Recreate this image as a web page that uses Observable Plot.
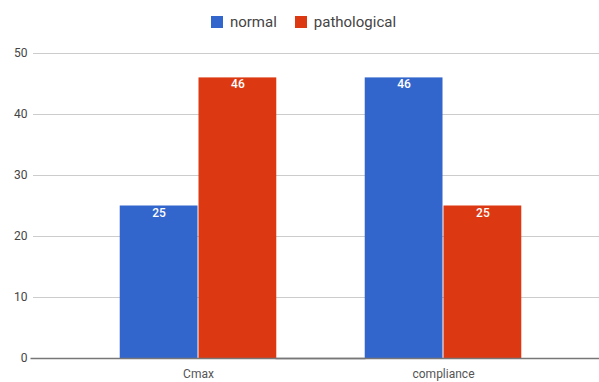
<!DOCTYPE html>
<html>
<head>
<meta charset="utf-8">
<script src="https://cdn.jsdelivr.net/npm/d3@7"></script>
<script src="https://cdn.jsdelivr.net/npm/@observablehq/plot@0.6"></script>
<style>
  body { margin: 0; background: #fff; font-family: Roboto, sans-serif; }
  #wrap { width: 599px; height: 382px; position: relative; }
  #legend { height: 40px; display: flex; justify-content: center; align-items: center; font-size: 15px; color: #444; padding-left: 8px; padding-top: 3px; box-sizing: border-box; }
  .item { display: flex; align-items: center; margin: 0 9px; }
  .sw { width: 12px; height: 12px; margin-right: 7px; }
  #plots { position: relative; width: 599px; height: 342px; }
  #plots svg { position: absolute; left: 0; top: 0; background: transparent; }
</style>
</head>
<body>
<div id="wrap">
  <div id="legend"></div>
  <div id="plots"></div>
</div>
<script>
const categories = ["Cmax", "compliance"];
const series = ["normal", "pathological"];
const normalValues = [25, 46];
const pathologicalValues = [46, 25];
const colors = ["#3366cc", "#dc3912"];
const yTicks = [0, 10, 20, 30, 40, 50];

const data = [];
categories.forEach((c, i) => {
  data.push({category: c, series: "normal", value: normalValues[i]});
  data.push({category: c, series: "pathological", value: pathologicalValues[i]});
});

// legend
const legend = document.getElementById("legend");
series.forEach((s, i) => {
  const it = document.createElement("div");
  it.className = "item";
  it.innerHTML = `<span class="sw" style="background:${colors[i]}"></span><span>${s}</span>`;
  legend.appendChild(it);
});

const W = 599, H = 342;
const common = {
  width: W, height: H,
  marginLeft: 33, marginRight: 0, marginTop: 13, marginBottom: 24,
  style: {fontFamily: "Roboto, sans-serif", fontSize: "12px", color: "#444", background: "transparent"}
};

// background: grid + y axis
const bg = Plot.plot({
  ...common,
  y: {domain: [0, 50], ticks: yTicks},
  marks: [
    Plot.ruleY(yTicks.filter(t => t > 0), {stroke: "#cccccc", strokeWidth: 1}),
    Plot.axisY(yTicks, {tickSize: 0, tickPadding: 6, label: null, fill: "#444", fontSize: 12})
  ]
});

// foreground: bars
const fg = Plot.plot({
  ...common,
  fx: {domain: categories, range: [75.5, 565.5], paddingInner: 0, paddingOuter: 0, round: false, label: null},
  x: {domain: series, paddingInner: 0, paddingOuter: 0.555, round: false, axis: null},
  y: {domain: [0, 50], axis: null},
  color: {domain: series, range: colors},
  marks: [
    Plot.barY(data, {fx: "category", x: "series", y: "value", fill: "series", insetLeft: 0.5, insetRight: 0.5}),
    Plot.text(data, {fx: "category", x: "series", y: "value", text: d => String(d.value), fill: "white", lineAnchor: "top", dy: 2, fontSize: 12, fontWeight: 500}),
    Plot.axisFx({anchor: "bottom", tickSize: 0, tickPadding: 11, label: null, fill: "#555", fontSize: 12, fontWeight: "normal"}),
    Plot.ruleY([0], {stroke: "#777", strokeWidth: 1.3, insetLeft: -45, insetRight: -45})
  ]
});

const plots = document.getElementById("plots");
plots.appendChild(bg);
plots.appendChild(fg);
</script>
</body>
</html>
